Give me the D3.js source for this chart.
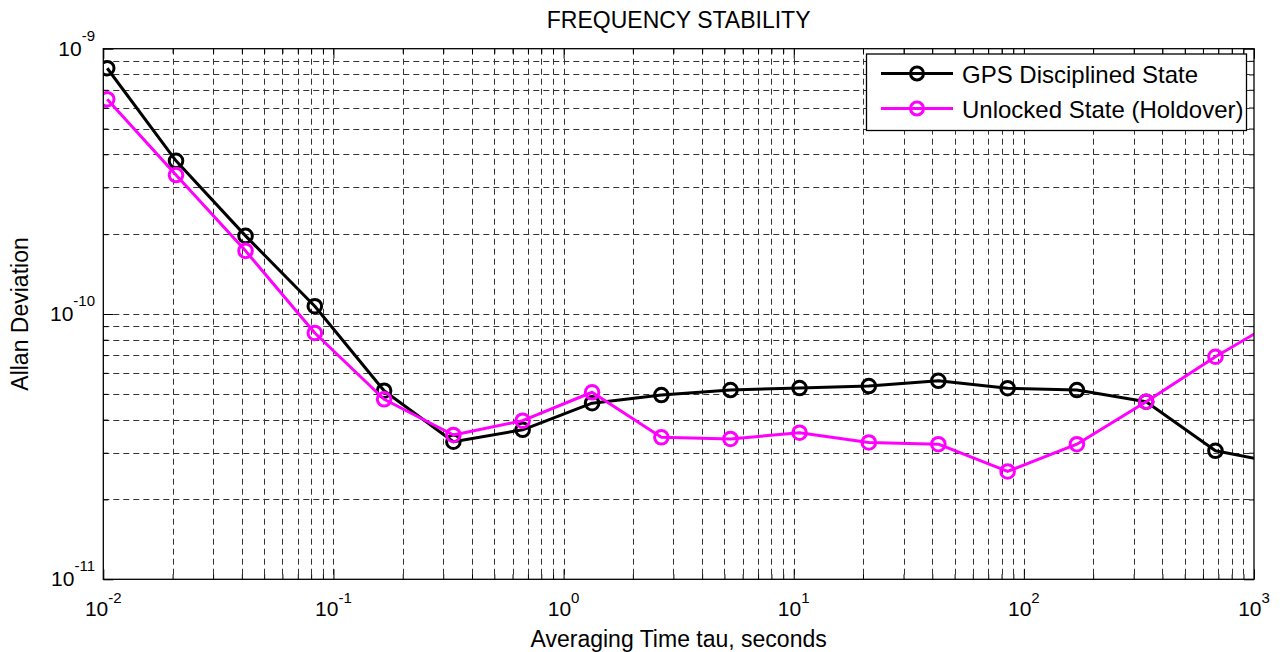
<!DOCTYPE html>
<html>
<head>
<meta charset="utf-8">
<script src="https://cdn.jsdelivr.net/npm/d3@7"></script>
<style>
  html, body { margin: 0; padding: 0; background: #fff; }
  svg { display: block; font-family: "Liberation Sans", Arial, Helvetica, sans-serif; }
</style>
</head>
<body>
<svg id="chart" width="1286" height="652"></svg>
<script>
// ---- data ----
const tau = [0.0104, 0.0207, 0.0415, 0.083, 0.166, 0.332, 0.664, 1.33, 2.66, 5.31, 10.6, 21.2, 42.5, 85.0, 170, 340, 680, 1360];
const gpsDisciplined = [8.44e-10, 3.78e-10, 1.97e-10, 1.07e-10, 5.14e-11, 3.30e-11, 3.66e-11, 4.61e-11, 4.95e-11, 5.17e-11, 5.26e-11, 5.35e-11, 5.60e-11, 5.25e-11, 5.17e-11, 4.67e-11, 3.05e-11, 2.72e-11];
const unlockedHoldover = [6.45e-10, 3.34e-10, 1.73e-10, 8.48e-11, 4.77e-11, 3.50e-11, 3.96e-11, 5.07e-11, 3.43e-11, 3.38e-11, 3.57e-11, 3.28e-11, 3.23e-11, 2.55e-11, 3.23e-11, 4.67e-11, 6.90e-11, 9.82e-11];
const seriesNames = ["GPS Disciplined State", "Unlocked State (Holdover)"];
const seriesColors = ["#000000", "#ff00ff"];
const xTickExponents = [-2, -1, 0, 1, 2, 3];
const yTickExponents = [-11, -10, -9];
const titleText = "FREQUENCY STABILITY";
const xLabelText = "Averaging Time tau, seconds";
const yLabelText = "Allan Deviation";

// ---- layout ----
const L = 103.3, R = 1254, T = 48.7, B = 579.3;
const svg = d3.select("#chart");
const x = d3.scaleLog().domain([1e-2, 1e3]).range([L, R]);
const y = d3.scaleLog().domain([1e-11, 1e-9]).range([B, T]);

function logTicks(e0, e1) {
  const major = [], minor = [];
  for (let e = e0; e <= e1; e++) {
    major.push(Math.pow(10, e));
    if (e < e1) for (let k = 2; k <= 9; k++) minor.push(k * Math.pow(10, e));
  }
  return { major, minor };
}
const xt = logTicks(-2, 3), yt = logTicks(-11, -9);

// ---- grid (dashed) ----
const grid = svg.append("g").attr("stroke", "#333").attr("stroke-width", 1)
  .attr("stroke-dasharray", "6,4").attr("fill", "none");
grid.selectAll("line.gx").data(xt.major.concat(xt.minor).filter(v => v > 1e-2 && v < 1e3))
  .join("line").attr("x1", d => Math.round(x(d)) + 0.5).attr("x2", d => Math.round(x(d)) + 0.5)
  .attr("y1", T).attr("y2", B);
grid.selectAll("line.gy").data(yt.major.concat(yt.minor).filter(v => v > 1e-11 && v < 1e-9))
  .join("line").attr("y1", d => Math.round(y(d)) + 0.5).attr("y2", d => Math.round(y(d)) + 0.5)
  .attr("x1", L).attr("x2", R);

// ---- axes (ticks inside, all four sides) ----
function fmtNone() { return ""; }
function addAxis(ax, tx, ty) {
  const g = svg.append("g").attr("transform", `translate(${tx},${ty})`).call(ax);
  g.select(".domain").remove();
  g.selectAll(".tick line").attr("stroke", "#000").attr("stroke-width", 1);
  return g;
}
addAxis(d3.axisTop(x).tickValues(xt.major).tickSize(10).tickFormat(fmtNone), 0, B);
addAxis(d3.axisTop(x).tickValues(xt.minor).tickSize(5).tickFormat(fmtNone), 0, B);
addAxis(d3.axisBottom(x).tickValues(xt.major).tickSize(10).tickFormat(fmtNone), 0, T);
addAxis(d3.axisBottom(x).tickValues(xt.minor).tickSize(5).tickFormat(fmtNone), 0, T);
addAxis(d3.axisRight(y).tickValues(yt.major).tickSize(10).tickFormat(fmtNone), L, 0);
addAxis(d3.axisRight(y).tickValues(yt.minor).tickSize(5).tickFormat(fmtNone), L, 0);
addAxis(d3.axisLeft(y).tickValues(yt.major).tickSize(10).tickFormat(fmtNone), R, 0);
addAxis(d3.axisLeft(y).tickValues(yt.minor).tickSize(5).tickFormat(fmtNone), R, 0);

// ---- tick labels ----
const xl = svg.append("g").attr("fill", "#000");
xTickExponents.forEach(e => {
  const t = xl.append("text").attr("x", x(Math.pow(10, e))).attr("y", 616)
    .attr("text-anchor", "middle").attr("font-size", 21);
  t.append("tspan").text("10");
  t.append("tspan").attr("dy", -13).attr("font-size", 15).text(String(e));
});
const yl = svg.append("g").attr("fill", "#000");
yTickExponents.forEach(e => {
  const yy = y(Math.pow(10, e));
  const t = yl.append("text").attr("x", 95).attr("y", yy + 7)
    .attr("text-anchor", "end").attr("font-size", 21);
  t.append("tspan").text("10");
  t.append("tspan").attr("dy", -15).attr("font-size", 15).text(String(e));
});

// ---- series ----
svg.append("clipPath").attr("id", "plotclip")
  .append("rect").attr("x", L).attr("y", T).attr("width", R - L).attr("height", B - T);
const plotG = svg.append("g").attr("clip-path", "url(#plotclip)");
const allSeries = [gpsDisciplined, unlockedHoldover];
const line = d3.line().x(d => x(d[0])).y(d => y(d[1]));
allSeries.forEach((vals, i) => {
  const pts = tau.map((t, j) => [t, vals[j]]);
  plotG.append("path").datum(pts).attr("d", line)
    .attr("fill", "none").attr("stroke", seriesColors[i]).attr("stroke-width", 3)
    .attr("stroke-linejoin", "round");
  plotG.selectAll(null).data(pts.filter(p => p[0] <= 1e3)).join("circle")
    .attr("cx", d => x(d[0])).attr("cy", d => y(d[1])).attr("r", 6.8)
    .attr("fill", "none").attr("stroke", seriesColors[i]).attr("stroke-width", 3);
});

// ---- box ----
svg.append("rect").attr("x", L).attr("y", T).attr("width", R - L).attr("height", B - T)
  .attr("fill", "none").attr("stroke", "#000").attr("stroke-width", 1.3);

// ---- legend ----
const lg = svg.append("g");
lg.append("rect").attr("x", 866.5).attr("y", 54).attr("width", 380).attr("height", 76.5)
  .attr("fill", "#fff").attr("stroke", "#000").attr("stroke-width", 1.3);
seriesNames.forEach((name, i) => {
  const ly = 73.5 + i * 35;
  lg.append("line").attr("x1", 881).attr("x2", 953).attr("y1", ly).attr("y2", ly)
    .attr("stroke", seriesColors[i]).attr("stroke-width", 3);
  lg.append("circle").attr("cx", 917).attr("cy", ly).attr("r", 6.5)
    .attr("fill", "none").attr("stroke", seriesColors[i]).attr("stroke-width", 3);
  lg.append("text").attr("x", 962).attr("y", ly + 9).attr("font-size", 24).attr("fill", "#000").text(name);
});

// ---- titles ----
svg.append("text").attr("x", (L + R) / 2).attr("y", 28).attr("text-anchor", "middle")
  .attr("font-size", 23).attr("fill", "#000").text(titleText);
svg.append("text").attr("x", (L + R) / 2).attr("y", 647).attr("text-anchor", "middle")
  .attr("font-size", 23).attr("fill", "#000").text(xLabelText);
svg.append("text").attr("transform", `translate(28,${(T + B) / 2}) rotate(-90)`)
  .attr("text-anchor", "middle").attr("font-size", 23).attr("fill", "#000").text(yLabelText);
</script>
</body>
</html>
